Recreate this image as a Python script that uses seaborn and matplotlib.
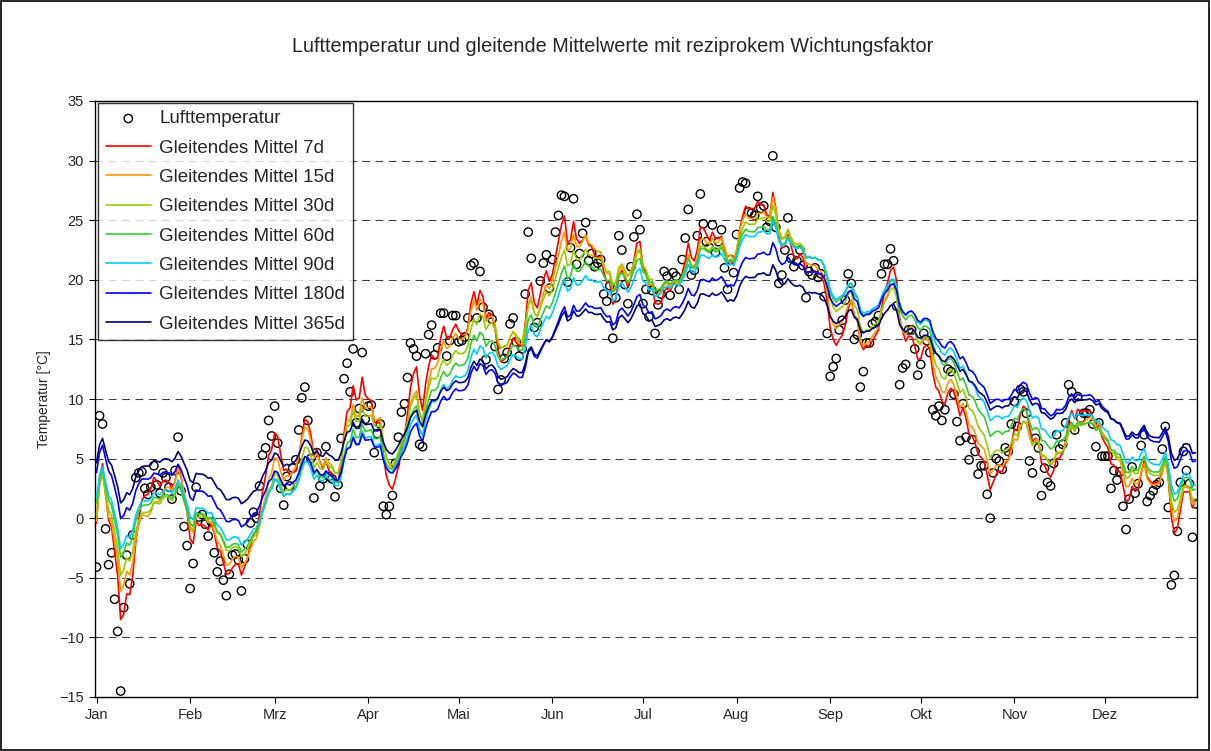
import numpy as np
import pandas as pd
import seaborn as sns
import matplotlib.pyplot as plt
from matplotlib.patches import Rectangle

sns.set_theme(style="white")
plt.rcParams["font.family"] = ["Liberation Sans", "DejaVu Sans"]

# daily air temperature (one value per day)
t_jan = [-4.1, 8.6, 7.9, -0.9, -3.9, -2.9, -6.8, -9.5, -14.5, -7.5, -3.1, -5.5, -1.4, 3.4, 3.8, 3.9,
         2.5, 2.0, 2.6, 4.4, 2.8, 2.1, 3.8, 3.4, 2.6, 1.6, 4.0, 6.8, 2.3, -0.7, -2.3]
t_feb = [-5.9, -3.8, 2.6, 0.1, 0.3, -0.5, -1.5, -0.3, -2.9, -4.5, -3.6, -5.2, -6.5, -4.7, -3.1, -3.0,
         -3.5, -6.1, -3.4, -2.2, -0.4, 0.5, 0.0, 2.7, 5.3, 5.9, 8.2, 6.9]
t_mar = [9.4, 6.3, 2.5, 1.1, 3.5, 2.7, 4.2, 4.9, 7.4, 10.1, 11.0, 8.2, 5.0, 1.7, 5.5, 2.7, 3.3, 6.0,
         3.5, 3.3, 1.8, 2.8, 6.7, 11.7, 13.0, 10.6, 14.2, 8.0, 9.2, 13.9, 8.3]
t_apr = [9.4, 9.5, 5.5, 7.1, 7.9, 1.0, 0.3, 1.0, 1.9, 4.6, 6.8, 8.9, 9.6, 11.8, 14.7, 14.2, 13.6, 6.2,
         6.0, 13.8, 15.4, 16.2, 13.7, 14.3, 17.2, 17.2, 13.6, 14.9, 17.0, 17.0]
t_mai = [14.8, 14.9, 15.2, 16.8, 21.2, 21.4, 16.8, 20.7, 17.7, 13.3, 17.1, 16.7, 14.4, 10.8, 11.6, 13.4,
         13.9, 16.3, 16.8, 14.8, 13.6, 14.2, 18.8, 24.0, 21.8, 16.0, 16.4, 19.9, 21.4, 22.1, 19.3]
t_jun = [21.7, 24.0, 25.4, 27.1, 27.0, 19.8, 22.7, 26.8, 21.3, 22.2, 23.9, 24.8, 21.6, 22.2, 21.1, 21.4,
         21.7, 18.8, 18.2, 19.5, 15.1, 18.5, 23.7, 22.5, 19.6, 18.0, 21.1, 23.6, 25.5, 24.2]
t_jul = [18.0, 19.2, 16.9, 19.1, 15.5, 17.9, 18.8, 20.7, 20.3, 18.7, 20.6, 20.3, 19.2, 21.7, 23.5, 25.9,
         20.4, 20.8, 23.7, 27.2, 24.7, 23.2, 22.7, 24.6, 22.3, 23.2, 24.2, 21.0, 19.2, 21.7, 20.6]
t_aug = [23.8, 27.7, 28.2, 28.1, 25.7, 25.6, 25.4, 27.0, 26.0, 26.2, 24.4, 24.9, 30.4, 24.4, 19.7, 20.4,
         22.5, 25.2, 21.8, 21.1, 21.6, 22.5, 21.2, 18.5, 20.7, 20.4, 21.0, 20.2, 20.5, 18.6, 15.5]
t_sep = [11.9, 12.7, 13.4, 15.8, 16.6, 18.3, 20.5, 19.7, 15.0, 15.4, 11.0, 12.3, 14.7, 14.7, 16.3, 16.5,
         17.0, 20.5, 21.3, 21.3, 22.6, 21.6, 17.8, 11.2, 12.6, 12.9, 15.8, 15.8, 14.2, 12.0]
t_okt = [12.9, 15.5, 14.9, 13.9, 9.1, 8.6, 9.4, 8.2, 9.1, 12.5, 12.3, 10.4, 8.1, 6.5, 9.6, 6.8, 4.9,
         6.6, 5.6, 3.7, 4.4, 4.4, 2.0, 0.0, 3.8, 5.0, 4.8, 4.1, 5.9, 5.6, 7.9]
t_nov = [9.8, 7.7, 10.8, 10.6, 8.8, 4.8, 3.8, 6.7, 5.9, 1.9, 4.2, 3.0, 2.7, 4.6, 7.0, 5.8, 6.2, 8.0,
         11.2, 10.6, 7.4, 10.2, 8.4, 8.8, 8.8, 9.1, 7.9, 6.0, 8.0, 5.2]
t_dez = [5.2, 5.2, 2.5, 4.0, 3.2, 3.9, 1.0, -0.95, 1.6, 4.3, 2.1, 2.9, 6.1, 7.0, 1.4, 1.9, 2.3, 2.8,
         3.0, 5.8, 7.7, 0.9, -5.6, -4.8, -1.1, 3.0, 5.6, 4.0, 2.9, -1.6, 1.2]

months = ["Jan", "Feb", "Mrz", "Apr", "Mai", "Jun", "Jul", "Aug", "Sep", "Okt", "Nov", "Dez"]
month_start = [0, 31, 59, 90, 120, 151, 181, 212, 243, 273, 304, 334]

windows = [7, 15, 30, 60, 90, 180, 365]
colors = ["#FF0000", "#FF9900", "#99CC00", "#33CC33", "#00CCFF", "#0000FF", "#000080"]

temp = np.array(t_jan + t_feb + t_mar + t_apr + t_mai + t_jun + t_jul + t_aug
                + t_sep + t_okt + t_nov + t_dez)
days = np.arange(len(temp))


def reciprocal_mean(vals, n):
    # weights 1, 1/2, 1/3 ... 1/n for today, yesterday, ...
    # history before Jan 1 taken from the end of the year
    w = 1.0 / np.arange(1, n + 1)
    out = []
    for i in range(len(vals)):
        hist = vals[(i - np.arange(n)) % len(vals)]
        out.append((w * hist).sum() / w.sum())
    return np.array(out)


df = pd.DataFrame({"Tag": days, "Temperatur": temp})

fig = plt.figure(figsize=(12.11, 7.51), dpi=100)
ax = fig.add_axes([95 / 1211, 1 - 697 / 751, 1102 / 1211, 596 / 751])

sns.scatterplot(data=df, x="Tag", y="Temperatur", ax=ax, marker="o", s=36,
                facecolor="none", edgecolor="black", linewidth=1.0,
                label="Lufttemperatur", zorder=2)

for n, c in zip(windows, colors):
    sns.lineplot(x=days, y=reciprocal_mean(temp, n), ax=ax, color=c, linewidth=1.2,
                 label=f"Gleitendes Mittel {n}d", zorder=3)

ax.set_xlim(-0.5, 364.5)
ax.set_ylim(-15, 35)
ax.set_yticks(np.arange(-15, 36, 5))
ax.set_xticks(month_start)
ax.set_xticklabels(months)
ax.tick_params(axis="both", labelsize=10.5, direction="out", length=4, width=0.8,
               color="black", left=True, bottom=True, pad=4)
ax.set_xlabel("")
ax.set_ylabel("Temperatur [°C]", fontsize=10, labelpad=6)

for y in range(-10, 35, 5):
    ax.axhline(y, color="#404040", linewidth=0.8, linestyle=(0, (7, 5)), zorder=1)

for s in ax.spines.values():
    s.set_color("black")
    s.set_linewidth(1.0)

leg = ax.legend(loc="upper left", bbox_to_anchor=(0.003, 0.997), borderaxespad=0,
                fontsize=13.5, frameon=True, fancybox=False, edgecolor="black",
                labelspacing=0.65, handlelength=2.4, handletextpad=0.45, borderpad=0.4)
leg.get_frame().set_linewidth(1.0)

fig.text(0.506, 1 - 46 / 751,
         "Lufttemperatur und gleitende Mittelwerte mit reziprokem Wichtungsfaktor",
         ha="center", va="center", fontsize=14.3)

fig.patches.append(Rectangle((0.0005, 0.0008), 0.998, 0.998, transform=fig.transFigure,
                             fill=False, edgecolor="black", linewidth=1.2))

plt.savefig("out.png", dpi=100)
